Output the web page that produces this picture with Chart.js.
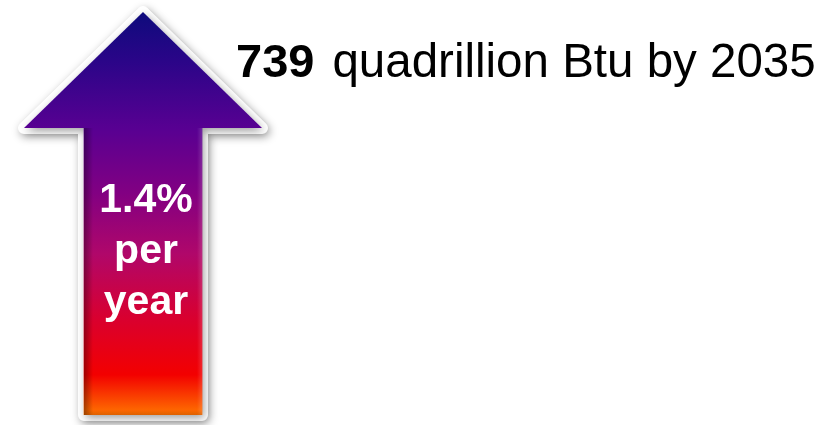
<!DOCTYPE html>
<html><head><meta charset="utf-8">
<script src="https://cdn.jsdelivr.net/npm/chart.js@4"></script>
<style>html,body{margin:0;padding:0;background:#fff}#wrap{width:834px;height:425px}</style>
</head><body><div id="wrap"><canvas id="c" width="834" height="425"></canvas></div>
<script>
const categories = ['World energy consumption'];
const totalValues = [739];
const growthRates = [1.4];
const unitText = ['quadrillion Btu by'];
const targetYears = ['2035'];
const rateUnits = ['per', 'year'];

const FONT = '"Liberation Sans", Arial, Helvetica, sans-serif';
const HEAD_HALF = 119, HEAD_H = 116;
let grad = null;
function getGrad(chart) {
  const a = chart.chartArea;
  if (!a) return '#800080';
  if (grad) return grad;
  const ctx = chart.ctx;
  grad = ctx.createLinearGradient(0, a.top - HEAD_H, 0, a.bottom);
  grad.addColorStop(0.00, '#0e0b7c');
  grad.addColorStop(0.12, '#2a0588');
  grad.addColorStop(0.29, '#580092');
  grad.addColorStop(0.45, '#820082');
  grad.addColorStop(0.60, '#b0076a');
  grad.addColorStop(0.76, '#d9002f');
  grad.addColorStop(0.90, '#f30000');
  grad.addColorStop(1.00, '#ff7400');
  return grad;
}
function barGeom(chart) {
  const el = chart.getDatasetMeta(0).data[0];
  return el.getProps(['x', 'y', 'base', 'width'], true);
}
function arrowPath(ctx, g) {
  const h = g.width / 2;
  ctx.beginPath();
  ctx.moveTo(g.x, g.y - HEAD_H);
  ctx.lineTo(g.x + HEAD_HALF, g.y);
  ctx.lineTo(g.x + h, g.y);
  ctx.lineTo(g.x + h, g.base);
  ctx.lineTo(g.x - h, g.base);
  ctx.lineTo(g.x - h, g.y);
  ctx.lineTo(g.x - HEAD_HALF, g.y);
  ctx.closePath();
}
const arrowPlugin = {
  id: 'arrow',
  beforeDatasetsDraw(chart) {
    const ctx = chart.ctx, g = barGeom(chart);
    ctx.save();
    ctx.shadowColor = 'rgba(0,0,0,0.38)';
    ctx.shadowBlur = 9;
    ctx.shadowOffsetX = 2;
    ctx.shadowOffsetY = 3;
    arrowPath(ctx, g);
    ctx.lineJoin = 'round';
    ctx.lineWidth = 12;
    ctx.strokeStyle = '#ffffff';
    ctx.fillStyle = '#ffffff';
    ctx.stroke();
    ctx.fill();
    ctx.restore();
  },
  afterDatasetsDraw(chart) {
    const ctx = chart.ctx, g = barGeom(chart), h = g.width / 2;
    ctx.save();
    ctx.beginPath();
    ctx.moveTo(g.x, g.y - HEAD_H);
    ctx.lineTo(g.x + HEAD_HALF, g.y);
    ctx.lineTo(g.x - HEAD_HALF, g.y);
    ctx.closePath();
    ctx.fillStyle = getGrad(chart);
    ctx.fill();
    let lg = ctx.createLinearGradient(g.x - h, 0, g.x - h + 9, 0);
    lg.addColorStop(0, 'rgba(0,0,0,0.35)');
    lg.addColorStop(1, 'rgba(0,0,0,0)');
    ctx.fillStyle = lg;
    ctx.fillRect(g.x - h, g.y, 9, g.base - g.y);
    lg = ctx.createLinearGradient(g.x + h - 5, 0, g.x + h, 0);
    lg.addColorStop(0, 'rgba(255,255,255,0)');
    lg.addColorStop(1, 'rgba(255,255,255,0.15)');
    ctx.fillStyle = lg;
    ctx.fillRect(g.x + h - 5, g.y, 5, g.base - g.y);
    lg = ctx.createLinearGradient(0, g.base - 5, 0, g.base);
    lg.addColorStop(0, 'rgba(120,40,0,0)');
    lg.addColorStop(1, 'rgba(120,40,0,0.25)');
    ctx.fillStyle = lg;
    ctx.fillRect(g.x - h, g.base - 5, g.width, 5);
    ctx.restore();
  },
  afterDraw(chart) {
    const ctx = chart.ctx, g = barGeom(chart);
    ctx.save();
    ctx.fillStyle = '#ffffff';
    ctx.textAlign = 'center';
    ctx.textBaseline = 'alphabetic';
    ctx.font = 'bold 41px ' + FONT;
    const cx = g.x + 3;
    ctx.fillText(growthRates[0].toFixed(1) + '%', cx, 212);
    ctx.fillText(rateUnits[0], cx, 263);
    ctx.fillText(rateUnits[1], cx, 314);
    ctx.textAlign = 'left';
    ctx.fillStyle = '#000000';
    ctx.font = 'bold 47px ' + FONT;
    const v = String(totalValues[0]);
    ctx.fillText(v, 236, 77);
    const w = ctx.measureText(v).width;
    ctx.font = '47.5px ' + FONT;
    ctx.fillText(unitText[0] + ' ' + targetYears[0], 236 + w + 18, 77);
    ctx.restore();
  }
};

new Chart(document.getElementById('c'), {
  type: 'bar',
  data: {
    labels: categories,
    datasets: [{
      data: totalValues,
      backgroundColor: (c) => getGrad(c.chart),
      borderWidth: 0,
      barThickness: 118
    }]
  },
  options: {
    responsive: false,
    animation: false,
    layout: { padding: { top: 128, bottom: 10, left: 0, right: 548 } },
    scales: {
      x: { display: false },
      y: { display: false, min: 0, max: totalValues[0] }
    },
    plugins: { legend: { display: false }, tooltip: { enabled: false } }
  },
  plugins: [arrowPlugin]
});
</script>
</body></html>
